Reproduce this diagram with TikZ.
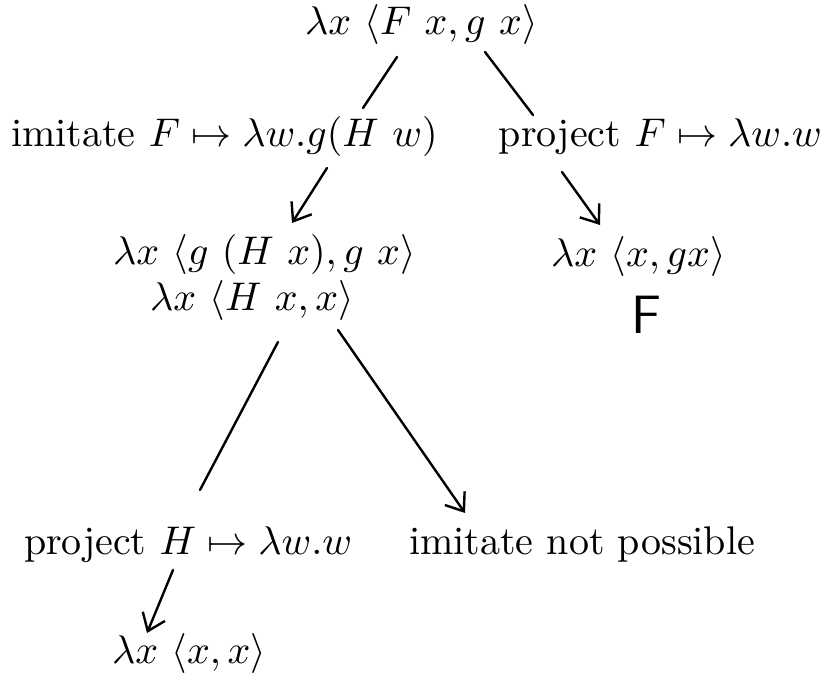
\documentclass[tikz,border=0pt]{standalone}
\usetikzlibrary{arrows.meta}
\begin{document}
\begin{tikzpicture}[x=0.25pt,y=-0.25pt,
  lbl/.style={inner sep=0pt,outer sep=0pt,anchor=base west},
  conn/.style={line width=0.6pt,line cap=round},
  arr/.style={conn,-{Straight Barb[length=4pt,width=6pt,line width=0.6pt]}}]
\useasboundingbox (0,0) rectangle (834,682);
\node[lbl] (top) at (305,35) {$\lambda x\ \langle F\ x, g\ x\rangle$};
\node[lbl] (imit) at (11,147) {imitate $F\mapsto \lambda w.g(H\ w)$};
\node[lbl,anchor=base east] (proj) at (822,147) {project $F\mapsto \lambda w.w$};
\node[lbl] (l1) at (113,265) {$\lambda x\ \langle g\ (H\ x), g\ x\rangle$};
\node[lbl] (l2) at (150,311) {$\lambda x\ \langle H\ x, x\rangle$};
\node[lbl] (r1) at (551,267) {$\lambda x\ \langle x, gx\rangle$};
\node[inner sep=0pt] (hf) at (646,315) {\fontsize{13.5pt}{14pt}\selectfont\sffamily F};
\node[lbl] (projH) at (24,555) {project $H\mapsto \lambda w.w$};
\node[lbl] (imposs) at (409,555) {imitate not possible};
\node[lbl] (bot) at (112,663) {$\lambda x\ \langle x, x\rangle$};
\draw[conn] ([shift={(92,22)}]top.base west) -- ([shift={(352,-39)}]imit.base west);
\draw[conn] ([shift={(180,17)}]top.base west) -- ([shift={(-289,-32)}]proj.base east);
\draw[arr] ([shift={(316,21)}]imit.base west) -- ([shift={(179,-42)}]l1.base west);
\draw[arr] ([shift={(-260,25)}]proj.base east) -- ([shift={(49,-42)}]r1.base west);
\draw[conn] ([shift={(128,31)}]l2.base west) -- ([shift={(176,-65)}]projH.base west);
\draw[arr] ([shift={(188,19)}]l2.base west) -- ([shift={(56,-42)}]imposs.base west);
\draw[arr] ([shift={(149,15)}]projH.base west) -- ([shift={(35,-30)}]bot.base west);
\end{tikzpicture}
\end{document}
